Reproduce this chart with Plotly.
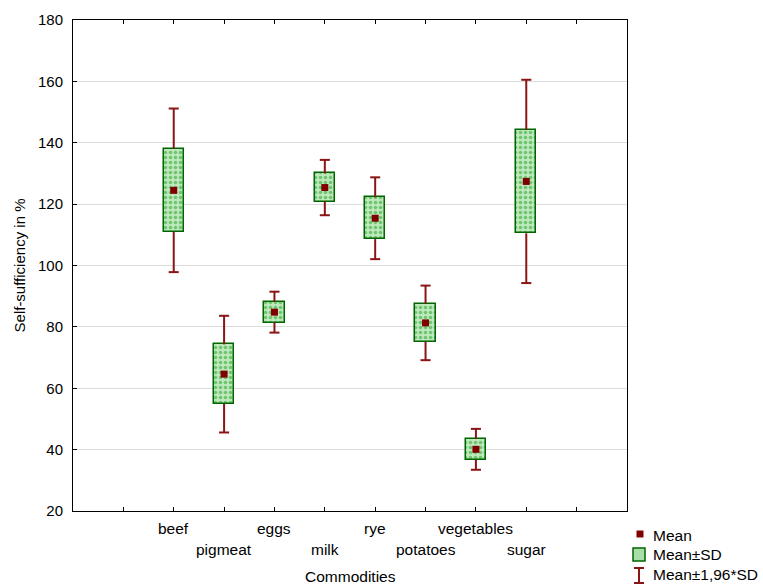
import plotly.graph_objects as go

# Self-sufficiency by commodity: mean and standard deviation (%)
commodities = ["beef", "pigmeat", "eggs", "milk", "rye", "potatoes", "vegetables", "sugar"]
means = [124.5, 64.6, 84.8, 125.4, 115.4, 81.3, 40.1, 127.4]
sds = [13.6, 9.7, 3.4, 4.6, 6.8, 6.2, 3.4, 16.9]
z = 1.96

y_ticks = [20, 40, 60, 80, 100, 120, 140, 160, 180]

W, H = 763, 586
L, R, T, B = 73, 627, 20, 511  # plot area in pixels

idx = list(range(len(commodities)))
box_base = [m - s for m, s in zip(means, sds)]
box_len = [2 * s for s in sds]

RED = "#8b1414"
MEAN_RED = "#800000"
GREEN_LINE = "#006400"
FONT = "Liberation Sans, Arial, sans-serif"

fig = go.Figure()

# Mean ± SD boxes
fig.add_trace(go.Bar(
    x=idx, y=box_len, base=box_base, width=0.4,
    marker=dict(
        color="#b4e6b4",
        line=dict(color=GREEN_LINE, width=1.5),
        pattern=dict(shape=".", fgcolor="#22a022", bgcolor="#bde9bd", size=5, solidity=0.4),
    ),
    showlegend=False, hoverinfo="skip",
))

# Whiskers from the box edges out to Mean ± 1.96*SD, with caps
cap = 0.1
wx, wy = [], []
for i, m, s in zip(idx, means, sds):
    hi, lo = m + z * s, m - z * s
    wx += [i, i, None, i - cap, i + cap, None, i, i, None, i - cap, i + cap, None]
    wy += [m + s, hi, None, hi, hi, None, m - s, lo, None, lo, lo, None]
fig.add_trace(go.Scatter(
    x=wx, y=wy, mode="lines", line=dict(color=RED, width=2),
    showlegend=False, hoverinfo="skip",
))

# Means
fig.add_trace(go.Scatter(
    x=idx, y=means, mode="markers",
    marker=dict(symbol="square", size=7, color=MEAN_RED),
    showlegend=False,
))

# Category labels on two staggered rows
annotations = []
for i, name in zip(idx, commodities):
    annotations.append(dict(
        x=i, y=0, xref="x", yref="paper", text=name, showarrow=False,
        yanchor="middle", yshift=-17 if i % 2 == 0 else -38,
        font=dict(size=15.5, color="black", family=FONT),
    ))

# x-axis title below the staggered labels
annotations.append(dict(
    x=0.5, y=0, xref="paper", yref="paper", text="Commodities", showarrow=False,
    yanchor="middle", yshift=-65, font=dict(size=15.5, color="black", family=FONT),
))


def px(x):
    return (x - L) / (R - L)


def py(y):
    return (B - y) / (B - T)


# Legend drawn beside the plot area
shapes = [
    dict(type="rect", xref="paper", yref="paper",
         x0=px(636.5), x1=px(643.5), y0=py(537.5), y1=py(530.5),
         fillcolor=MEAN_RED, line=dict(width=0)),
    dict(type="rect", xref="paper", yref="paper",
         x0=px(633), x1=px(645), y0=py(561), y1=py(548),
         fillcolor="#a8dfa8", line=dict(color=GREEN_LINE, width=1.5)),
    dict(type="line", xref="paper", yref="paper",
         x0=px(639), x1=px(639), y0=py(583), y1=py(568), line=dict(color=RED, width=2)),
    dict(type="line", xref="paper", yref="paper",
         x0=px(634), x1=px(644), y0=py(568), y1=py(568), line=dict(color=RED, width=2)),
    dict(type="line", xref="paper", yref="paper",
         x0=px(634), x1=px(644), y0=py(583), y1=py(583), line=dict(color=RED, width=2)),
]
for label, ty in [("Mean", 535), ("Mean±SD", 554.5), ("Mean±1,96*SD", 574)]:
    annotations.append(dict(
        x=px(651), y=py(ty), xref="paper", yref="paper", text=label,
        showarrow=False, xanchor="left", yanchor="middle",
        font=dict(size=15.5, color="black", family=FONT),
    ))

fig.update_layout(
    width=W, height=H,
    margin=dict(l=L, r=W - R, t=T, b=H - B, pad=0),
    paper_bgcolor="white", plot_bgcolor="white",
    font=dict(family=FONT, size=15, color="black"),
    showlegend=False,
    bargap=0,
    annotations=annotations,
    shapes=shapes,
    xaxis=dict(
        range=[-2, len(commodities) + 1],
        tickvals=list(range(-1, len(commodities) + 1)),
        showticklabels=False,
        ticks="inside", ticklen=4, tickcolor="black",
        showgrid=False, zeroline=False,
        showline=True, linecolor="black", linewidth=1, mirror="ticks",
    ),
    yaxis=dict(
        range=[20, 180], tickvals=y_ticks,
        ticks="inside", ticklen=4, tickcolor="black",
        showgrid=True, gridcolor="#dcdcdc", gridwidth=1, zeroline=False,
        showline=True, linecolor="black", linewidth=1, mirror=True,
        ticklabelstandoff=6,
        tickfont=dict(size=15),
        title=dict(text="Self-sufficiency in %", standoff=8, font=dict(size=15)),
    ),
)

fig.write_html("out.html")
